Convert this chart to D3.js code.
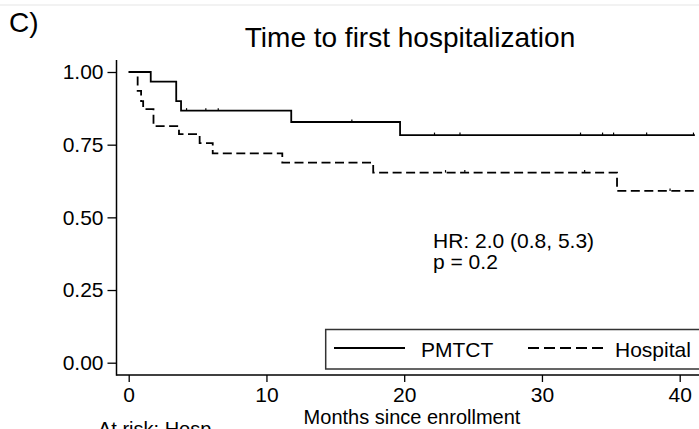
<!DOCTYPE html>
<html>
<head>
<meta charset="utf-8">
<script src="https://cdn.jsdelivr.net/npm/d3@7"></script>
<style>
  body { margin: 0; background: #fff; }
  svg { display: block; font-family: "Liberation Sans", Arial, Helvetica, sans-serif; }
</style>
</head>
<body>
<svg width="699" height="429"></svg>
<script>
// Kaplan-Meier steps (months, survival)
var pmtctTimes = [0, 1.6, 3.45, 3.8, 11.8, 19.7, 41.1];
var pmtctSurv = [1.0, 0.967, 0.90, 0.867, 0.828, 0.783, 0.783];
var pmtctCensor = [4.2, 5.6, 6.5, 16.2, 22.2, 24.05, 32.8, 34.4, 35.2, 37.6, 41.0];

var hospTimes = [0, 0.65, 0.9, 1.05, 1.8, 3.65, 5.15, 6.1, 11.15, 17.75, 35.45, 41.1];
var hospSurv = [1.0, 0.935, 0.90, 0.872, 0.814, 0.786, 0.755, 0.72, 0.688, 0.654, 0.591, 0.591];
var hospCensor = [23.0, 24.4, 33.1, 39.3];

var xTicks = [0, 10, 20, 30, 40];
var yTicks = [0, 0.25, 0.5, 0.75, 1];
var legendLabels = ["PMTCT", "Hospital"];
var statLines = ["HR: 2.0 (0.8, 5.3)", "p = 0.2"];

var svg = d3.select("svg");
var x = d3.scaleLinear().domain([0, 40]).range([128.7, 679.7]);
var y = d3.scaleLinear().domain([0, 1]).range([362.7, 72]);
var axisX = 116.5, axisY = 375;

// faint line at the very top
svg.append("line").attr("x1", 0).attr("x2", 699).attr("y1", 5).attr("y2", 5)
    .attr("stroke", "#eeeeee").attr("stroke-width", 1.5);

svg.append("text").attr("x", 9).attr("y", 32).attr("font-size", 28).text("C)");
svg.append("text").attr("x", 410).attr("y", 47).attr("text-anchor", "middle")
    .attr("font-size", 28).text("Time to first hospitalization");

// axes
var yAxis = d3.axisLeft(y).tickValues(yTicks).tickFormat(d3.format(".2f"))
    .tickSize(9).tickPadding(4).tickSizeOuter(0);
var gy = svg.append("g").attr("transform", "translate(" + axisX + ",0)").call(yAxis);
gy.select(".domain").remove();

var xAxis = d3.axisBottom(x).tickValues(xTicks).tickSize(7).tickPadding(5).tickSizeOuter(0);
var gx = svg.append("g").attr("transform", "translate(0," + axisY + ")").call(xAxis);
gx.select(".domain").remove();

[gx, gy].forEach(function(g) {
    g.selectAll("text").attr("font-size", 21).attr("fill", "#000")
        .attr("font-family", "'Liberation Sans', Arial, Helvetica, sans-serif");
    g.selectAll("line").attr("stroke", "#000").attr("stroke-width", 1.3);
});

svg.append("line").attr("x1", axisX).attr("x2", axisX).attr("y1", 60).attr("y2", axisY + 0.7)
    .attr("stroke", "#000").attr("stroke-width", 1.5);
svg.append("line").attr("x1", axisX).attr("x2", 705).attr("y1", axisY).attr("y2", axisY)
    .attr("stroke", "#000").attr("stroke-width", 1.5);

svg.append("text").attr("x", 412).attr("y", 424).attr("text-anchor", "middle")
    .attr("font-size", 20).text("Months since enrollment");
svg.append("text").attr("x", 98).attr("y", 436).attr("font-size", 20).text("At risk:  Hosp");

// curves
var line = d3.line()
    .x(function(d) { return x(d.t); })
    .y(function(d) { return y(d.s); })
    .curve(d3.curveStepAfter);

function zipSteps(times, surv) {
    return times.map(function(t, i) { return { t: t, s: surv[i] }; });
}
function survAt(times, surv, t) {
    var i = d3.bisectRight(times, t) - 1;
    return surv[Math.max(0, i)];
}

svg.append("path").datum(zipSteps(pmtctTimes, pmtctSurv))
    .attr("d", line).attr("fill", "none").attr("stroke", "#000").attr("stroke-width", 1.8);
svg.append("path").datum(zipSteps(hospTimes, hospSurv))
    .attr("d", line).attr("fill", "none").attr("stroke", "#000").attr("stroke-width", 1.8)
    .attr("stroke-dasharray", "9,4.5");

// censoring marks
svg.append("g").selectAll("line").data(pmtctCensor).enter().append("line")
    .attr("x1", function(d) { return x(d); }).attr("x2", function(d) { return x(d); })
    .attr("y1", function(d) { return y(survAt(pmtctTimes, pmtctSurv, d)) - 2.5; })
    .attr("y2", function(d) { return y(survAt(pmtctTimes, pmtctSurv, d)); })
    .attr("stroke", "#000").attr("stroke-width", 1.2);
svg.append("g").selectAll("line").data(hospCensor).enter().append("line")
    .attr("x1", function(d) { return x(d); }).attr("x2", function(d) { return x(d); })
    .attr("y1", function(d) { return y(survAt(hospTimes, hospSurv, d)) - 2.5; })
    .attr("y2", function(d) { return y(survAt(hospTimes, hospSurv, d)); })
    .attr("stroke", "#000").attr("stroke-width", 1.2);

// HR annotation
svg.append("g").selectAll("text").data(statLines).enter().append("text")
    .attr("x", 433).attr("y", function(d, i) { return 248 + i * 20.5; })
    .attr("font-size", 21).text(function(d) { return d; });

// legend
var legend = svg.append("g");
legend.append("rect").attr("x", 325.7).attr("y", 329.5).attr("width", 390).attr("height", 39.5)
    .attr("fill", "#fff").attr("stroke", "#333").attr("stroke-width", 1.5);
var legItems = [
    { label: legendLabels[0], x1: 334, x2: 405, tx: 421, dash: null },
    { label: legendLabels[1], x1: 528, x2: 603, tx: 615, dash: "11,5" }
];
legItems.forEach(function(it) {
    legend.append("line").attr("x1", it.x1).attr("x2", it.x2).attr("y1", 348).attr("y2", 348)
        .attr("stroke", "#000").attr("stroke-width", 1.8).attr("stroke-dasharray", it.dash);
    legend.append("text").attr("x", it.tx).attr("y", 356.5).attr("font-size", 21).text(it.label);
});
</script>
</body>
</html>
